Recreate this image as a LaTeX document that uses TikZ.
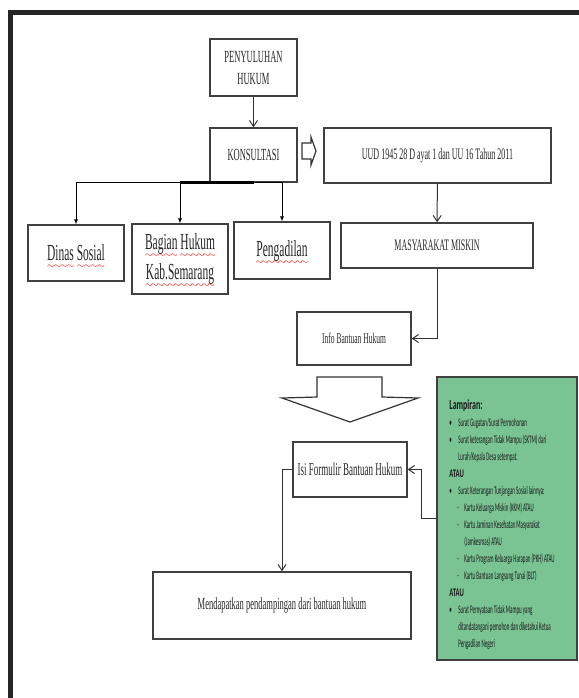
\documentclass[tikz,border=0pt]{standalone}
\usepackage{fontspec}
\setmainfont{Liberation Serif}[FakeStretch=0.5]
\newfontfamily\lampfont{Carlito}[FakeStretch=0.43]
\newfontfamily\lamphead{Carlito}[FakeStretch=0.57]
\usetikzlibrary{arrows.meta,positioning}
\definecolor{lampgreen}{RGB}{122,196,148}
% red spell-check wave under a word
\newcommand\redwave[1]{\setbox0\hbox{#1}\rlap{\color{red}\raisebox{-4pt}[0pt][0pt]{\hbox to\wd0{\xleaders\hbox{\kern-0.45pt\scalebox{0.4}{$\sim$}\kern-0.45pt}\hfil}}}\box0\relax}
\newcommand\bul{\makebox[4.5pt][l]{\textbullet}}
\newcommand\subi{\hspace*{4pt}\makebox[3.5pt][l]{-}}

\begin{document}
\begin{tikzpicture}[x=0.5pt, y=-0.5pt,
  box/.style={rectangle, draw=black!75, line width=0.7pt, fill=white, align=center, text=black!85, inner sep=2pt},
  arrow/.style={-{Straight Barb[length=3pt, width=4pt]}, line width=0.5pt, black!80},
  tick/.style={-{Latex[length=2.5pt, width=2.2pt]}, line width=0.5pt, black},
  hollow/.style={draw=black!80, line width=0.6pt, fill=white},
  lamptext/.style={align=left, inner sep=0pt, text=black!90, font=\lampfont\fontsize{5.8pt}{8.5pt}\selectfont},
]
\useasboundingbox (0,0) rectangle (579,698);

% frame
\draw[line width=2.5pt, black!85] (10,698) -- (10,12) -- (579,12);

% === TOP ===
\node[box, minimum width=43.5pt, minimum height=28.5pt, font=\fontsize{8.5pt}{11pt}\selectfont] (penyuluhan) at (253.5,67.5) {PENYULUHAN\\HUKUM};
\node[box, minimum width=43.5pt, minimum height=27pt, font=\fontsize{8.5pt}{10pt}\selectfont] (konsultasi) at (253.5,155) {KONSULTASI};
\node[box, minimum width=113.5pt, minimum height=27.5pt, font=\fontsize{8pt}{10pt}\selectfont] (uud) at (437.5,155.5) {UUD 1945 28 D ayat 1 dan UU 16 Tahun 2011};

% === BRANCHES ===
\node[box, minimum width=48pt, minimum height=28pt, font=\fontsize{11.5pt}{15pt}\selectfont] (dinas) at (76,253) {\redwave{Dinas} \redwave{Sosial}};
\node[box, minimum width=48pt, minimum height=35pt, font=\fontsize{11.5pt}{15pt}\selectfont] (bagian) at (180,259) {\redwave{Bagian} \redwave{Hukum}\\\redwave{Kab.Semarang}};
\node[box, minimum width=48pt, minimum height=28.5pt, font=\fontsize{11.5pt}{15pt}\selectfont] (pengadilan) at (282,250.5) {\redwave{Pengadilan}};
\node[box, minimum width=96pt, minimum height=22.5pt, font=\fontsize{8pt}{10pt}\selectfont] (masyarakat) at (437,245.5) {MASYARAKAT MISKIN};

% === LOWER ===
\node[box, minimum width=57pt, minimum height=26.5pt, font=\fontsize{7.5pt}{9pt}\selectfont] (info) at (354,338.5) {Info Bantuan Hukum};
\node[box, minimum width=57pt, minimum height=27.5pt, font=\fontsize{9pt}{11pt}\selectfont] (formulir) at (350,469.5) {Isi Formulir Bantuan Hukum};
\node[box, minimum width=129pt, minimum height=33.5pt, font=\fontsize{8.5pt}{10pt}\selectfont] (pendampingan) at (282,605.5) {Mendapatkan pendampingan dari bantuan hukum};
\node[rectangle, draw=black!75, line width=0.7pt, fill=lampgreen, minimum width=70pt, minimum height=141.5pt] (lampiran) at (507,518.5) {};
\node[lamptext, anchor=north west] (lampitems) at (449,399) {%
{\lamphead\bfseries\fontsize{7pt}{8.5pt}\selectfont Lampiran:}\\
\bul Surat Gugatan/Surat Permohonan\\
\bul Surat keterangan Tidak Mampu (SKTM) dari\\
\hspace*{4.5pt}Lurah/Kepala Desa setempat.\\
{\lamphead\bfseries ATAU}\\
\bul Surat Keterangan Tunjangan Sosial lainnya:\\
\subi Kartu Keluarga Miskin (KKM) ATAU\\
\subi Kartu Jaminan Kesehatan Masyarakat\\
\hspace*{7.5pt}(Jamkesmas) ATAU\\
\subi Kartu Program Keluarga Harapan (PKH) ATAU\\
\subi Kartu Bantuan Langsung Tunai (BLT)\\
{\lamphead\bfseries ATAU}\\
\bul Surat Pernyataan Tidak Mampu yang\\
\hspace*{4.5pt}ditandatangani pemohon dan diketahui Ketua\\
\hspace*{4.5pt}Pengadilan Negeri};

% hollow arrows
\draw[hollow] (302,143) -- (311,143) -- (311,137) -- (316,151) -- (311,165) -- (311,159) -- (302,159) -- cycle;
\draw[hollow] (317,377) -- (382,377) -- (382,397) -- (418,398) -- (350,422) -- (282,398) -- (317,397) -- cycle;

% connectors
\draw[arrow] (penyuluhan) -- (konsultasi);
\draw[tick] (konsultasi.south) -| (dinas.north);
\draw[tick] (konsultasi.south) -| (bagian.north);
\draw[tick] (konsultasi.south) -| (pengadilan.north);
\draw[line width=1.6pt] (bagian.north |- konsultasi.south) -- (konsultasi.south);
\draw[arrow] (uud) -- (masyarakat);
\draw[arrow] (masyarakat.south) |- (info.east);
\draw[arrow] (lampiran.west) -- ++(-15,0) |- (formulir.east);
\draw[arrow] (formulir.west) -| (pendampingan.north);
\end{tikzpicture}
\end{document}
